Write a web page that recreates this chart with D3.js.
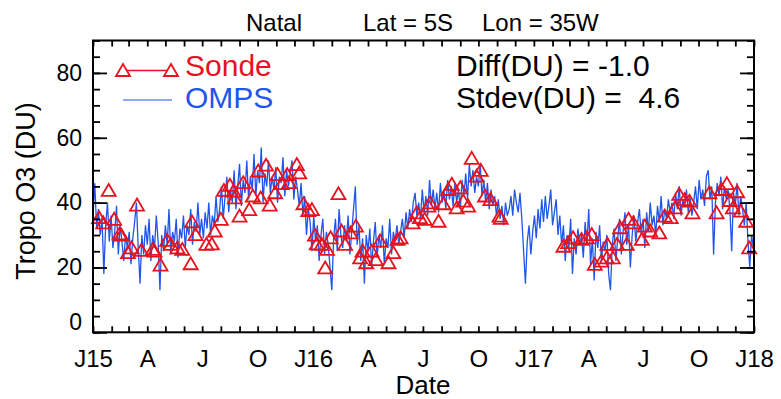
<!DOCTYPE html>
<html>
<head>
<meta charset="utf-8">
<script src="https://cdn.jsdelivr.net/npm/d3@7"></script>
<style>
  html, body { margin: 0; padding: 0; background: #fff; }
  svg { display: block; }
  text { font-family: "Liberation Sans", Arial, Helvetica, sans-serif; }
</style>
</head>
<body>
<svg id="chart" width="781" height="399"></svg>
<script>
// ---- data ----
// OMPS tropospheric column ozone (DU), one value every 3 days from 2015-01-01
const ompsStepDays = 3;
const ompsValues = [
  36,46,32,38,30,35,18,33,40,28,
  36,26,31,39,24,33,28,22,30,26,
  31,21,29,34,40,26,15,30,24,33,
  27,35,22,30,26,36,28,13,30,25,
  33,27,38,24,31,28,35,23,32,29,
  36,26,33,30,38,27,34,31,40,30,
  35,29,37,32,40,30,36,33,42,34,
  38,45,35,42,48,37,44,40,50,38,
  45,52,39,47,43,53,41,48,44,55,
  42,50,46,57,40,49,45,53,43,48,
  44,51,40,48,46,54,42,50,45,49,
  53,41,48,44,39,46,36,42,30,38,
  34,25,36,28,33,22,30,35,24,31,
  27,20,13,29,35,25,38,30,26,33,
  28,36,24,31,38,45,27,33,22,29,
  15,30,25,32,20,28,34,23,30,26,
  33,21,29,26,35,24,31,28,33,27,
  31,35,29,37,32,38,34,40,43,36,
  40,35,44,37,42,36,47,39,44,38,
  43,37,46,40,44,38,47,41,45,39,
  46,40,44,38,47,42,49,41,52,45,
  50,43,48,45,52,42,47,40,46,38,
  44,39,42,36,41,35,39,33,40,36,
  38,42,36,44,40,37,43,35,25,15,
  28,33,24,31,36,29,38,32,41,34,
  42,35,39,44,33,37,41,30,36,27,
  33,22,30,26,35,18,29,24,32,27,
  30,23,34,27,38,21,29,16,31,26,
  33,22,28,25,30,18,13,27,32,22,
  29,35,24,31,37,27,33,20,30,36,
  28,34,38,30,35,26,37,31,40,33,
  36,30,39,34,42,33,38,35,41,37,
  40,35,43,38,45,36,41,39,44,37,
  42,36,40,45,38,47,41,44,39,48,
  50,41,45,24,40,46,42,48,38,45,
  41,44,38,25,43,39,46,36,42,38,
  33,40,28,20,30,26
];

// Ozonesonde launches: days since 2015-01-01 and tropospheric column (DU)
const sondeDay = [
  10,17,26,35,44,47,58,64,73,80,99,102,112,123,129,140,148,162,164,170,
  188,197,202,212,217,227,233,235,243,249,259,265,274,278,287,293,302,306,313,322,
  325,338,342,349,357,363,368,371,379,385,388,394,407,412,418,427,436,443,447,453,
  462,469,476,490,498,505,510,530,537,542,550,556,559,573,581,589,595,603,609,614,
  622,628,636,643,650,659,674,676,780,788,796,810,819,827,832,843,852,853,862,869,
  874,885,888,896,910,915,924,939,948,958,965,972,981,989,994,1022,1034,1042,1051,1056,
  1061,1068,1074,1083,1088
];
const sondeO3 = [
  35.5,33.9,43.9,35.0,30.5,30.1,24.7,26.2,39.4,25.4,25.7,25.2,20.9,28.5,27.3,26.2,25.7,21.3,34.2,30.3,
  27.3,27.4,31.4,35.0,43.9,45.5,43.7,41.6,36.0,46.3,38.0,42.2,49.9,41.6,51.7,39.4,43.2,48.8,46.0,48.8,
  46.3,51.9,49.3,39.8,37.7,38.0,30.1,27.4,27.3,20.0,25.7,29.3,42.9,31.4,27.3,30.8,32.9,23.1,25.2,21.6,
  25.2,22.6,28.3,21.6,24.7,28.8,29.3,33.9,37.0,35.5,35.0,39.1,40.1,34.4,39.8,44.2,45.8,38.5,44.7,40.6,
  39.1,53.8,48.3,50.1,42.2,41.1,36.0,35.3,26.7,27.8,29.3,28.8,29.3,30.3,21.1,22.1,23.1,27.3,23.1,27.3,
  32.4,27.3,35.0,33.9,28.8,32.9,31.4,30.8,36.0,35.5,38.5,42.7,41.1,40.6,37.0,43.2,37.0,44.2,46.0,40.8,
  38.5,43.5,37.5,34.4,26.2
];

const monthLabels = ["J15","A","J","O","J16","A","J","O","J17","A","J","O","J18"];
const yMajorTicks = [0, 20, 40, 60, 80];

const titleParts = ["Natal", "Lat = 5S", "Lon = 35W"];
const statLines = ["Diff(DU) = -1.0", "Stdev(DU) =  4.6"];
const seriesNames = ["Sonde", "OMPS"];

// ---- layout ----
const svg = d3.select("#chart");
const plotLeft = 93, plotRight = 754, plotTop = 40.5, plotBottom = 332.3;
const red = "#e8121e", blue = "#1f55ea";

const t0 = new Date(Date.UTC(2015, 0, 1));
const t1 = new Date(Date.UTC(2018, 0, 1));
const x = d3.scaleUtc().domain([t0, t1]).range([plotLeft, plotRight]);
const y = d3.scaleLinear().domain([0, 90]).range([plotBottom, plotTop]);
const dayToDate = d => d3.utcDay.offset(t0, d);

svg.append("clipPath").attr("id", "plotClip")
  .append("rect").attr("x", plotLeft).attr("y", plotTop)
  .attr("width", plotRight - plotLeft).attr("height", plotBottom - plotTop);

// OMPS line
const ompsData = ompsValues.map((v, i) => ({ date: dayToDate(i * ompsStepDays), v }));
svg.append("path")
  .datum(ompsData)
  .attr("clip-path", "url(#plotClip)")
  .attr("fill", "none")
  .attr("stroke", blue)
  .attr("stroke-width", 1.3)
  .attr("d", d3.line().x(d => x(d.date)).y(d => y(d.v)));

// Sonde triangles
const tri = "M0,-6L7,6L-7,6Z";
const sondeData = sondeDay.map((d, i) => ({ date: dayToDate(d), v: sondeO3[i] }));
svg.append("g").selectAll("path")
  .data(sondeData).join("path")
  .attr("d", tri)
  .attr("transform", d => `translate(${x(d.date)},${y(d.v)})`)
  .attr("fill", "none")
  .attr("stroke", red)
  .attr("stroke-width", 1.8);

// ---- axes ----
function styleAxis(g) {
  g.select(".domain").remove();
  g.selectAll("line").attr("stroke", "#000").attr("stroke-width", 1.8);
  g.selectAll("text").attr("fill", "#000").style("font-size", "23px")
    .style("font-family", "'Liberation Sans', Arial, sans-serif");
}

const months = d3.utcMonth.range(t0, d3.utcMonth.offset(t1, 1));
const quarters = months.filter((m, i) => i % 3 === 0);

// monthly ticks on bottom and top
svg.append("g").attr("transform", `translate(0,${plotBottom})`)
  .call(d3.axisBottom(x).tickValues(months).tickSize(-6).tickFormat(""))
  .call(styleAxis);
svg.append("g").attr("transform", `translate(0,${plotTop})`)
  .call(d3.axisTop(x).tickValues(months).tickSize(-6).tickFormat(""))
  .call(styleAxis);
// quarterly labels
svg.append("g").attr("transform", `translate(0,${plotBottom})`)
  .call(d3.axisBottom(x).tickValues(quarters).tickSize(0).tickPadding(18)
    .tickFormat((d, i) => monthLabels[i]))
  .call(styleAxis)
  .call(g => g.selectAll("text").style("font-size", "24px"));

// y minor ticks every 5 DU
const yMinor = d3.range(0, 91, 5);
svg.append("g").attr("transform", `translate(${plotLeft},0)`)
  .call(d3.axisLeft(y).tickValues(yMinor).tickSize(-7).tickFormat(""))
  .call(styleAxis);
svg.append("g").attr("transform", `translate(${plotRight},0)`)
  .call(d3.axisRight(y).tickValues(yMinor).tickSize(-7).tickFormat(""))
  .call(styleAxis);
// y major ticks with labels
svg.append("g").attr("transform", `translate(${plotLeft},0)`)
  .call(d3.axisLeft(y).tickValues(yMajorTicks).tickSize(-14).tickPadding(11))
  .call(styleAxis)
  .call(g => g.selectAll("text").filter(d => d === 0).attr("y", -10));
svg.append("g").attr("transform", `translate(${plotRight},0)`)
  .call(d3.axisRight(y).tickValues(yMajorTicks).tickSize(-14).tickFormat(""))
  .call(styleAxis);

// frame
svg.append("rect")
  .attr("x", plotLeft).attr("y", plotTop)
  .attr("width", plotRight - plotLeft).attr("height", plotBottom - plotTop)
  .attr("fill", "none").attr("stroke", "#000").attr("stroke-width", 2);

// ---- titles ----
const titleX = [246, 363, 482];
svg.append("g").selectAll("text").data(titleParts).join("text")
  .attr("x", (d, i) => titleX[i]).attr("y", 31)
  .style("font-size", "24px").attr("fill", "#000")
  .text(d => d);

svg.append("text")
  .attr("x", 423).attr("y", 394)
  .attr("text-anchor", "middle")
  .style("font-size", "26px").attr("fill", "#000")
  .text("Date");

svg.append("text")
  .attr("transform", "translate(34.5,191) rotate(-90)")
  .attr("text-anchor", "middle")
  .style("font-size", "27px").attr("fill", "#000")
  .text("Tropo O3 (DU)");

// ---- legend ----
const lg = svg.append("g");
lg.append("line").attr("x1", 123).attr("x2", 171).attr("y1", 70.5).attr("y2", 70.5)
  .attr("stroke", red).attr("stroke-width", 1.3);
lg.selectAll("path.lt").data([123, 171]).join("path")
  .attr("class", "lt")
  .attr("d", tri)
  .attr("transform", d => `translate(${d},70)`)
  .attr("fill", "#fff").attr("stroke", red).attr("stroke-width", 1.8);
lg.append("line").attr("x1", 123).attr("x2", 172).attr("y1", 100).attr("y2", 100)
  .attr("stroke", blue).attr("stroke-width", 1.1);
lg.selectAll("text").data(seriesNames).join("text")
  .attr("x", 185).attr("y", (d, i) => 76 + i * 32)
  .attr("fill", (d, i) => i === 0 ? red : blue)
  .style("font-size", "30px")
  .text(d => d);

// ---- statistics ----
svg.append("g").selectAll("text").data(statLines).join("text")
  .attr("x", 456).attr("y", (d, i) => 76 + i * 32)
  .attr("fill", "#000")
  .style("font-size", "30px")
  .style("white-space", "pre")
  .attr("xml:space", "preserve")
  .text(d => d);
</script>
</body>
</html>
